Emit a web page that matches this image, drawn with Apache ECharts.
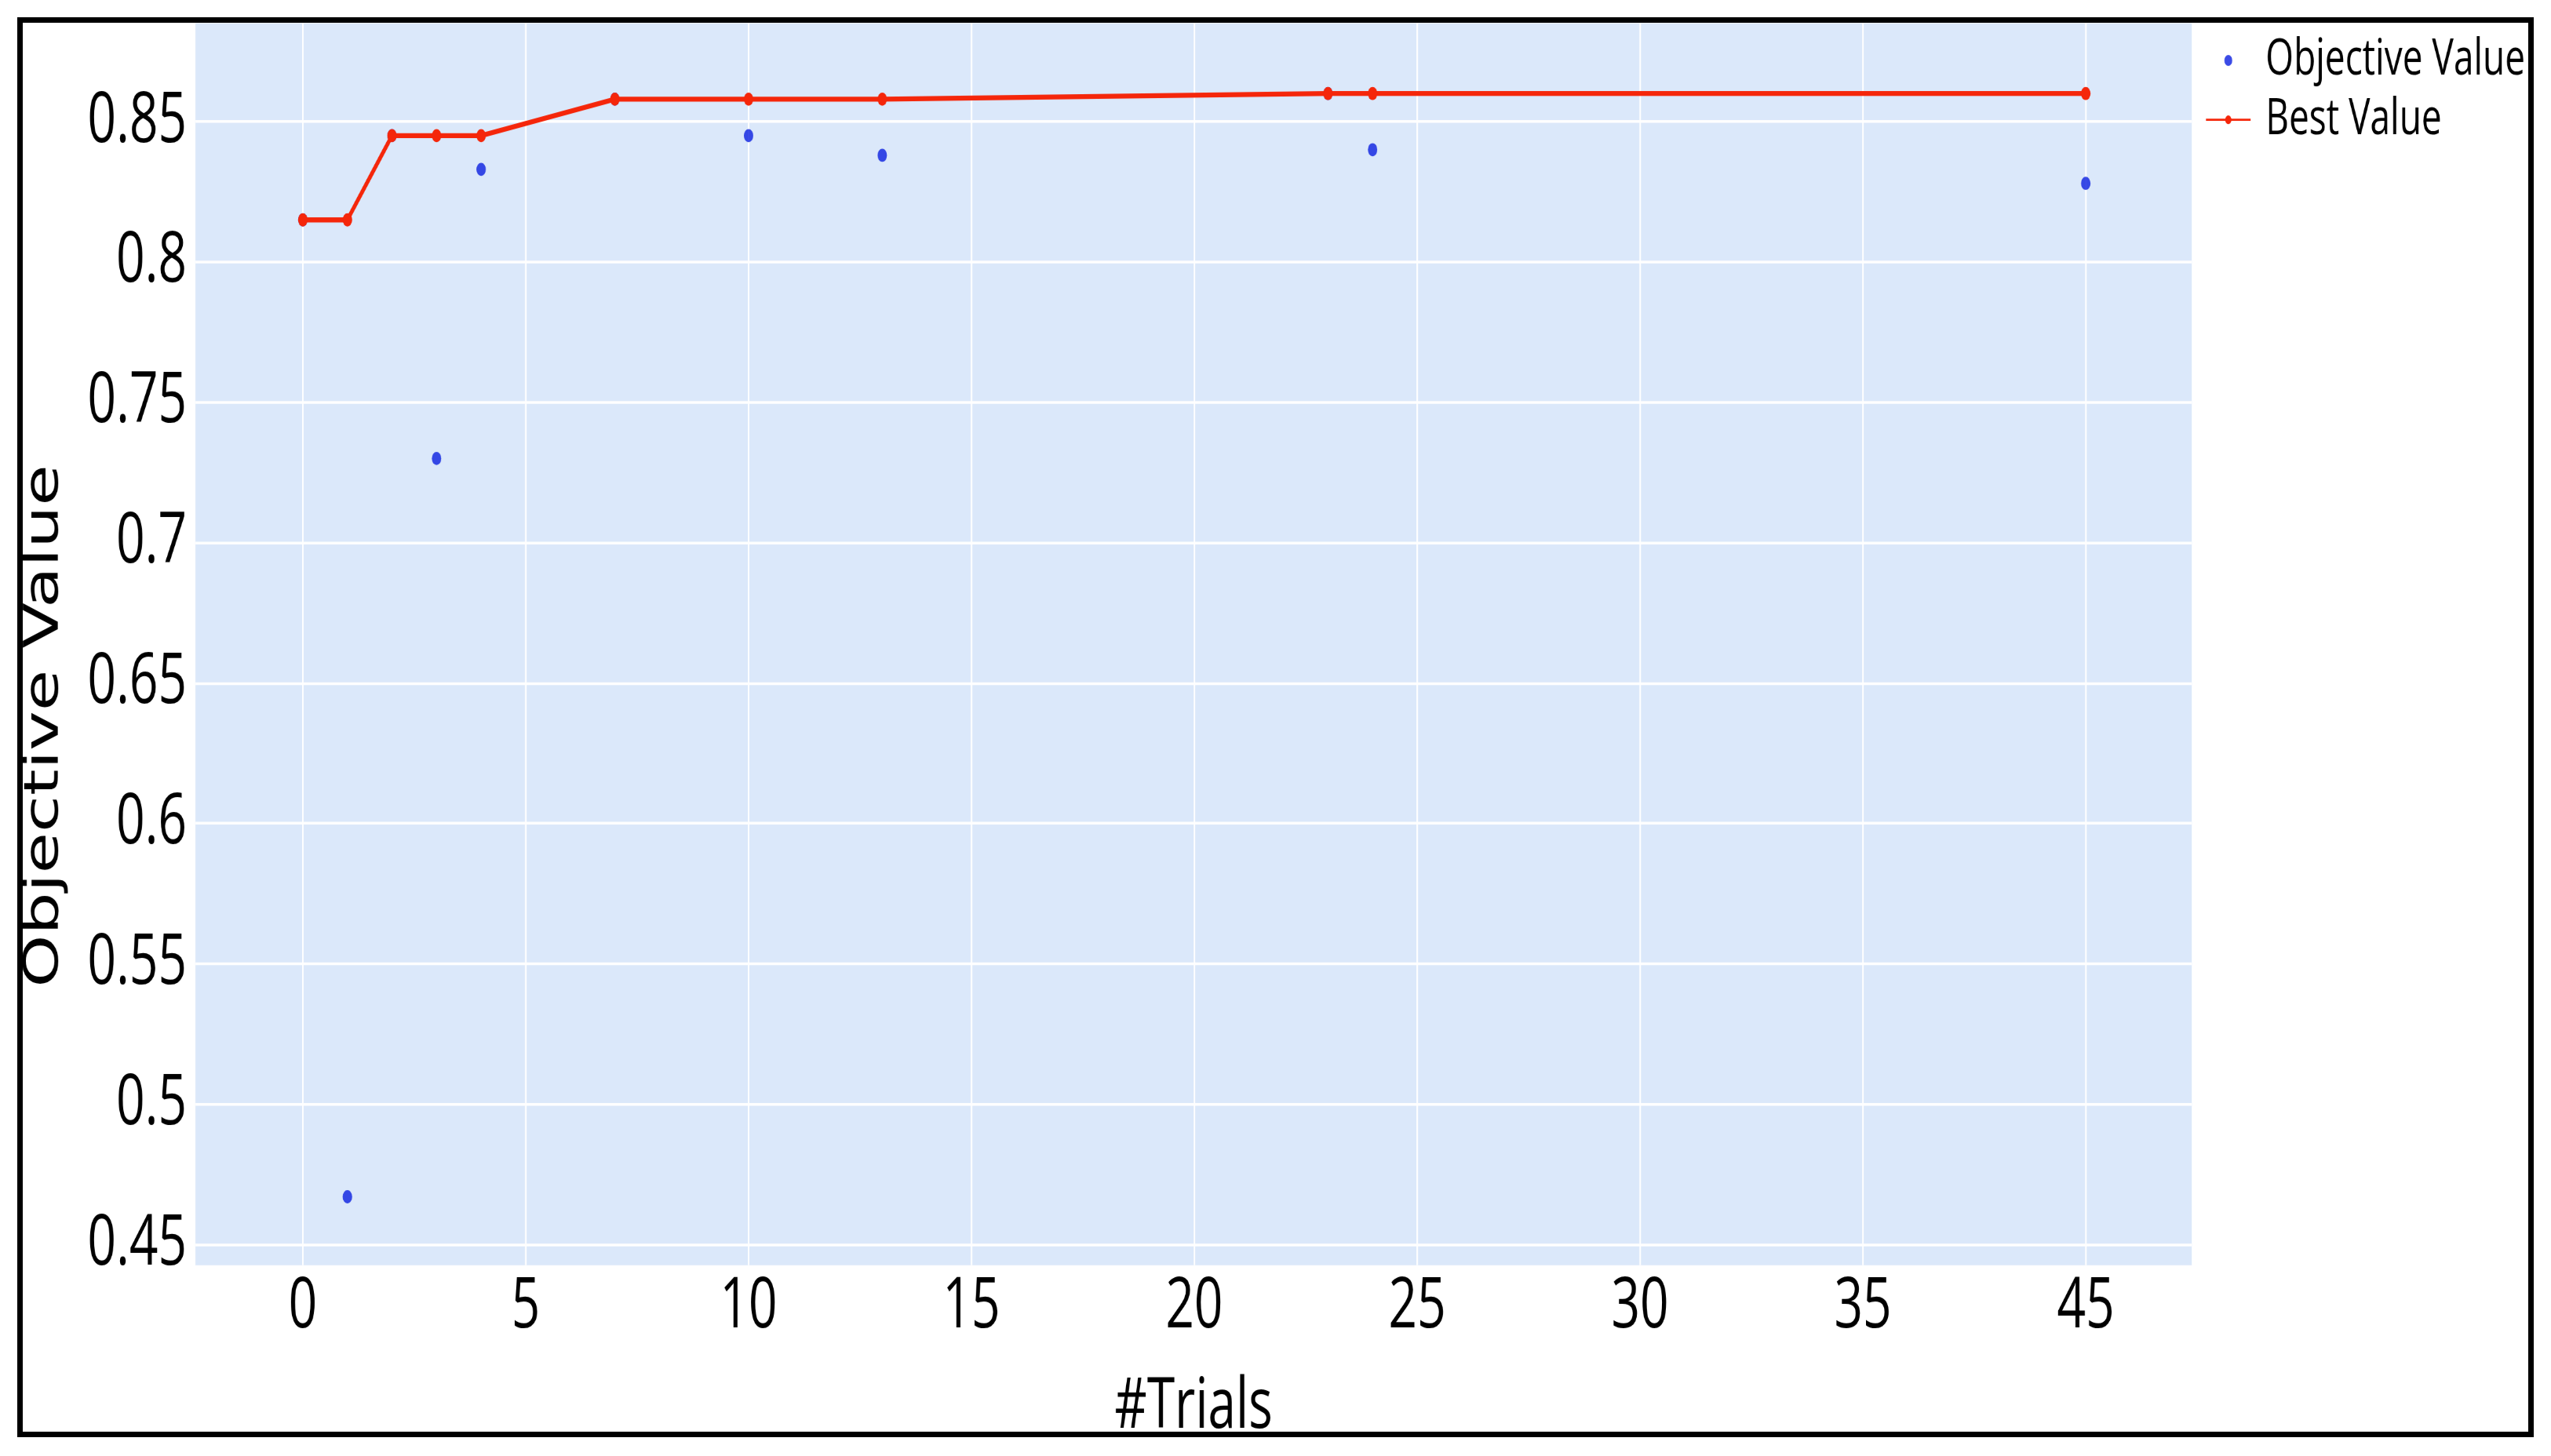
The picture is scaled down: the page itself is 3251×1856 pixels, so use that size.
<!DOCTYPE html>
<html>
<head>
<meta charset="utf-8">
<script src="https://cdn.jsdelivr.net/npm/echarts@6/dist/echarts.min.js"></script>
<style>
  html, body { margin: 0; padding: 0; background: #fff; }
  #stage { position: absolute; left: 0; top: 0; width: 3251px; height: 1856px; overflow: hidden; background: #fff; }
  #wrap { position: absolute; left: 0; top: 0; width: 3251px; height: 1326px; transform: scaleY(1.39970); transform-origin: 0 0; }
  #chart { width: 3251px; height: 1326px; }
  #frame { position: absolute; left: 22px; top: 22px; width: 3207px; height: 1810px; box-sizing: border-box; border: 7px solid #000; pointer-events: none; }
</style>
</head>
<body>
<div id="stage">
  <div id="wrap"><div id="chart"></div></div>
  <div id="frame"></div>
</div>
<script>
// ---- data ----
const trials = [0, 1, 2, 3, 4, 7, 10, 13, 23, 24, 40];
const objectiveValues = [0.815, 0.467, 0.845, 0.730, 0.833, 0.858, 0.845, 0.838, 0.860, 0.840, 0.828];
const bestValues = [0.815, 0.815, 0.845, 0.845, 0.845, 0.858, 0.858, 0.858, 0.860, 0.860, 0.860];
// x tick positions and the labels the reference prints at them (the 40 gridline is labelled "45")
const xTickValues = [0, 5, 10, 15, 20, 25, 30, 35, 40];
const xTickLabels = ['0', '5', '10', '15', '20', '25', '30', '35', '45'];
const yTickValues = [0.45, 0.5, 0.55, 0.6, 0.65, 0.7, 0.75, 0.8, 0.85];
const yTickLabels = ['0.45', '0.5', '0.55', '0.6', '0.65', '0.7', '0.75', '0.8', '0.85'];
const seriesNames = ['Objective Value', 'Best Value'];

const objPairs = trials.map((t, i) => [t, objectiveValues[i]]);
const bestPairs = trials.map((t, i) => [t, bestValues[i]]);

const chart = echarts.init(document.getElementById('chart'), null, { devicePixelRatio: 1.4, renderer: 'canvas' });

const tickFont = 'Open Sans';
const option = {
  backgroundColor: '#ffffff',
  animation: false,
  grid: {
    left: 249, right: 458, top: 21, bottom: 174,
    show: true, backgroundColor: '#dbe8fa', borderWidth: 0,
    containLabel: false, outerBoundsMode: 'none'
  },
  legend: {
    orient: 'vertical',
    left: 2805, top: 27,
    itemWidth: 57, itemHeight: 10, itemGap: 8,
    textStyle: { fontFamily: tickFont, fontSize: 46, color: '#000', padding: [0, 0, 0, 14] },
    data: seriesNames
  },
  xAxis: {
    type: 'value',
    min: -2.41, max: 42.38,
    axisLine: { show: false },
    axisTick: { show: false, customValues: xTickValues },
    axisLabel: {
      customValues: xTickValues,
      margin: 6,
      fontFamily: tickFont, fontSize: 64, color: '#000',
      formatter: v => xTickLabels[xTickValues.indexOf(v)]
    },
    splitLine: { show: true, lineStyle: { color: '#ffffff', width: 2 } },
    name: '#Trials',
    nameLocation: 'middle',
    nameGap: 98,
    nameTextStyle: { fontFamily: tickFont, fontSize: 64, color: '#000' }
  },
  yAxis: {
    type: 'value',
    min: 0.4426, max: 0.8851,
    axisLine: { show: false },
    axisTick: { show: false, customValues: yTickValues },
    axisLabel: {
      customValues: yTickValues,
      margin: 11,
      fontFamily: tickFont, fontSize: 64, color: '#000',
      formatter: v => {
        const i = yTickValues.findIndex(t => Math.abs(t - v) < 1e-9);
        return i >= 0 ? yTickLabels[i] : '';
      }
    },
    splitLine: { show: true, lineStyle: { color: '#ffffff', width: 2.5 } }
  },
  graphic: [{
    type: 'text',
    x: 58, y: 661,
    rotation: Math.PI / 2,
    style: {
      text: 'Objective Value',
      font: '61px "DejaVu Sans"',
      fill: '#000',
      align: 'center', verticalAlign: 'middle',
      textAlign: 'center', textVerticalAlign: 'middle'
    }
  }],
  series: [
    {
      name: seriesNames[0],
      type: 'scatter',
      data: objPairs,
      symbol: 'circle',
      symbolSize: 12,
      itemStyle: { color: '#0a1ee0' },
      z: 2
    },
    {
      name: seriesNames[1],
      type: 'line',
      data: bestPairs,
      symbol: 'circle',
      symbolSize: 12,
      showSymbol: true,
      lineStyle: { color: '#f5260a', width: 4.5 },
      itemStyle: { color: '#f5260a' },
      z: 3
    }
  ]
};
chart.setOption(option);
</script>
</body>
</html>
